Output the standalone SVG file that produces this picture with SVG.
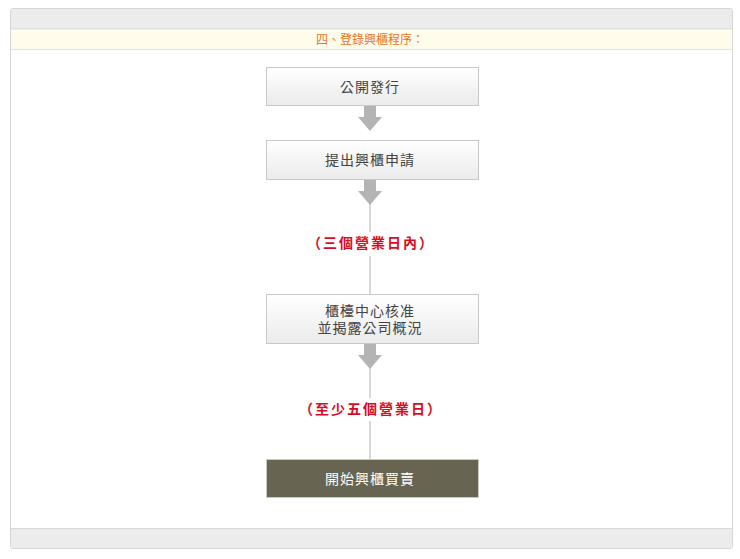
<svg xmlns="http://www.w3.org/2000/svg" width="740" height="559" viewBox="0 0 740 559">
<style>
.box{fill:url(#g);stroke:#c8c8c8;stroke-width:1}
.dark{fill:#676552;stroke:#c9c9c0;stroke-width:1}
.t{font-family:"Noto Sans CJK TC","Noto Sans CJK SC",sans-serif;font-size:14px;fill:#444;text-anchor:middle;letter-spacing:1px}
.tw{fill:#fff}
.lbl{font-family:"Noto Sans CJK TC","Noto Sans CJK SC",sans-serif;font-size:14px;font-weight:bold;fill:#d80c24;text-anchor:middle;letter-spacing:2px}
.arr{fill:#b4b4b4}
.ln{stroke:#b0b0b0;stroke-width:1;fill:none}
</style>
<defs>
<linearGradient id="g" x1="0" y1="0" x2="0" y2="1">
<stop offset="0" stop-color="#ffffff"/>
<stop offset="1" stop-color="#ebebeb"/>
</linearGradient>
</defs>
<rect x="0" y="0" width="740" height="559" fill="#ffffff"/>
<g id="panel">
<rect x="10.5" y="8.5" width="722" height="540" rx="2" fill="#ffffff" stroke="#d6d6d6"/>
<rect x="11" y="9" width="721" height="20" fill="#ececec"/>
<line x1="11" y1="29" x2="732" y2="29" stroke="#dadada"/>
<rect x="11" y="30" width="721" height="19" fill="#fffcec"/>
<line x1="11" y1="49.5" x2="732" y2="49.5" stroke="#e4e4e4"/>
<text x="370" y="44" font-family="'Noto Sans CJK TC','Noto Sans CJK SC',sans-serif" font-size="12" fill="#e8741c" text-anchor="middle">四、登錄興櫃程序：</text>
<line x1="11" y1="528.5" x2="732" y2="528.5" stroke="#d8d8d8"/>
<rect x="11" y="529" width="721" height="19" fill="#ececec"/>
</g>
<g id="connectors">
<polygon class="arr" points="364,106 376,106 376,117 382,117 370,131 358,117 364,117"/>
<polygon class="arr" points="364,180 376,180 376,191 382,191 370,205 358,191 364,191"/>
<line class="ln" x1="370" y1="204" x2="370" y2="232"/>
<line class="ln" x1="370" y1="256" x2="370" y2="295"/>
<polygon class="arr" points="364,344 376,344 376,355 382,355 370,369 358,355 364,355"/>
<line class="ln" x1="370" y1="368" x2="370" y2="398"/>
<line class="ln" x1="370" y1="421" x2="370" y2="460"/>
</g>
<g id="n1">
<rect class="box" x="266.5" y="67.5" width="212" height="38"/>
<text class="t" x="370" y="92">公開發行</text>
</g>
<g id="n2">
<rect class="box" x="266.5" y="140.5" width="212" height="39"/>
<text class="t" x="370" y="165">提出興櫃申請</text>
</g>
<g id="l1">
<text class="lbl" x="371" y="248">（三個營業日內）</text>
</g>
<g id="n3">
<rect class="box" x="266.5" y="294.5" width="212" height="49"/>
<text class="t" x="370" y="316">櫃檯中心核准</text>
<text class="t" x="370" y="333">並揭露公司概況</text>
</g>
<g id="l2">
<text class="lbl" x="371" y="414">（至少五個營業日）</text>
</g>
<g id="n4">
<rect class="dark" x="266.5" y="459.5" width="212" height="38"/>
<text class="t tw" x="370" y="484">開始興櫃買賣</text>
</g>
</svg>
